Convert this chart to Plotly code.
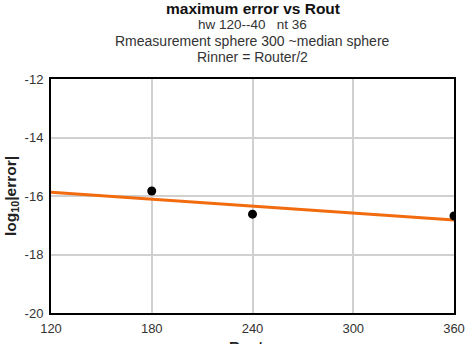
import plotly.graph_objects as go

router = [180, 240, 360]
log_err = [-15.83, -16.62, -16.68]
trend_x = [120, 360]
trend_y = [-15.87, -16.82]

x_ticks = [120, 180, 240, 300, 360]
y_ticks = [-20, -18, -16, -14, -12]
y_tick_labels = ["-20", "-18", "-16", "-14", "-12"]

FONT = "Liberation Sans, Arial, sans-serif"
PLOT_H = 344 - 79 - 31

fig = go.Figure()
fig.add_trace(go.Scatter(x=trend_x, y=trend_y, mode="lines",
                         line=dict(color="#f26b0f", width=3), showlegend=False))
fig.add_trace(go.Scatter(x=router, y=log_err, mode="markers",
                         marker=dict(color="black", size=9), showlegend=False))

fig.update_layout(
    width=467, height=344,
    margin=dict(l=51, r=13, t=79, b=31),
    paper_bgcolor="white", plot_bgcolor="white",
    font=dict(family=FONT, color="#333333"),
    xaxis=dict(range=[120, 360], tickvals=x_ticks, showgrid=True, gridcolor="#d0d0d0",
               gridwidth=1.5, zeroline=False, showline=True, linecolor="black", linewidth=2,
               mirror=True, tickfont=dict(size=13, color="#333333"),
               ticks="outside", ticklen=2, tickcolor="rgba(0,0,0,0)", automargin=False),
    yaxis=dict(range=[-20, -12], tickvals=y_ticks, ticktext=y_tick_labels, showgrid=True,
               gridcolor="#d0d0d0", gridwidth=1.5, zeroline=False, showline=True,
               linecolor="black", linewidth=2, mirror=True,
               tickfont=dict(size=13, color="#333333"),
               ticks="outside", ticklen=3, tickcolor="rgba(0,0,0,0)", automargin=False,
               title=dict(text="<b>log<sub>10</sub>|error|</b>", font=dict(size=15.5, color="#222222"), standoff=4)),
)

lines = [
    ("<b>maximum error vs Rout</b>", 15.5, "#111111", 9),
    ("hw 120--40   nt 36", 13.5, "#333333", 25),
    ("Rmeasurement sphere 300 ~median sphere", 14, "#333333", 41),
    ("Rinner = Router/2", 14, "#333333", 57),
]
for text, size, color, ypx in lines:
    fig.add_annotation(text=text, xref="paper", yref="paper", x=0.5,
                       y=1 + (79 - ypx) / PLOT_H, xanchor="center", yanchor="middle",
                       showarrow=False, font=dict(size=size, color=color, family=FONT))

fig.add_annotation(text="<b>Router</b>", xref="paper", yref="paper", x=0.5,
                   y=-(336 - 313) / PLOT_H, xanchor="center", yanchor="top",
                   showarrow=False, font=dict(size=15, color="#222222", family=FONT))

fig.write_html("out.html")
